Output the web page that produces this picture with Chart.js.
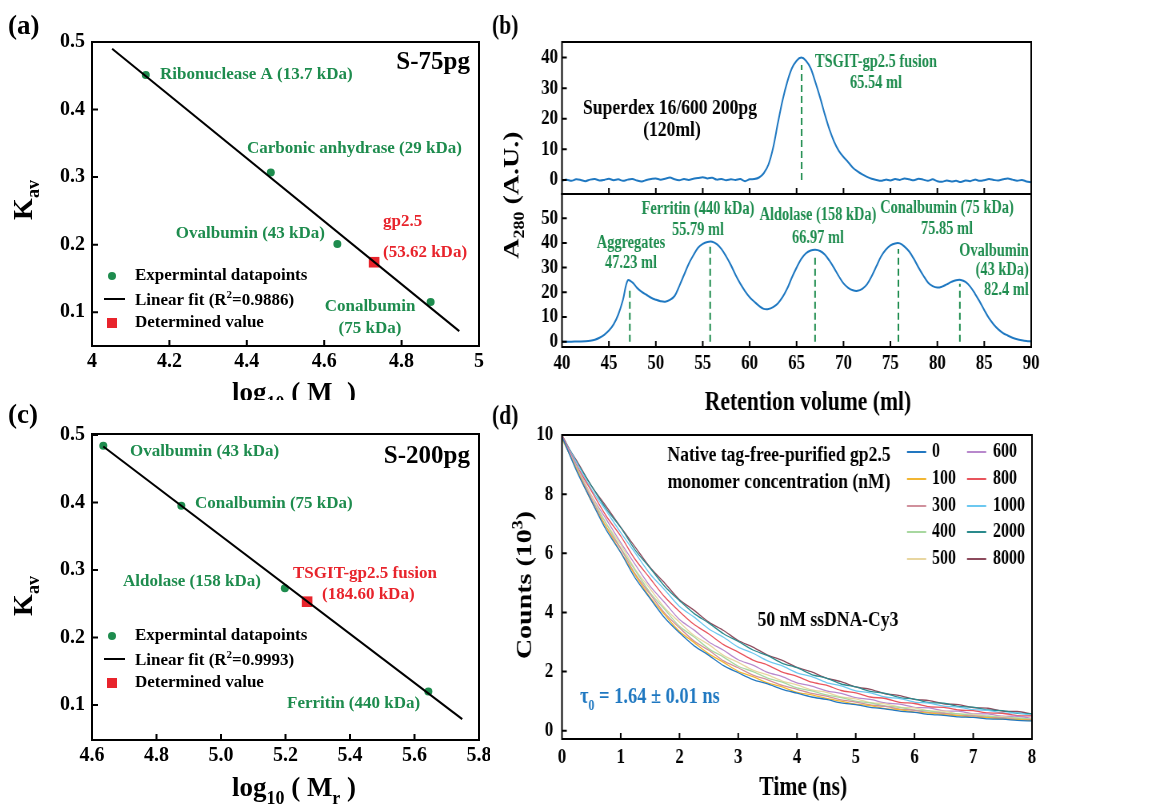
<!DOCTYPE html>
<html><head><meta charset="utf-8">
<script src="https://cdn.jsdelivr.net/npm/chart.js@4.4.1/dist/chart.umd.min.js"></script>
<style>
html,body{margin:0;padding:0;background:#fff;}
#wrap{position:relative;width:1165px;height:806px;overflow:hidden;background:#fff;}
.pn{position:absolute;}
.sq{transform:scaleX(0.8);transform-origin:0 0;}
</style></head><body>
<div id="wrap">
<div class="pn" style="left:0;top:0;width:490px;height:400px"><canvas id="ca"></canvas></div>
<div class="pn" style="left:0;top:400px;width:490px;height:406px"><canvas id="cc"></canvas></div>
<div class="pn sq" style="left:480px;top:0;width:856px;height:420px"><canvas id="cb1"></canvas></div>
<div class="pn sq" style="left:480px;top:0;width:856px;height:420px"><canvas id="cb2"></canvas></div>
<div class="pn sq" style="left:480px;top:400px;width:856px;height:406px"><canvas id="cd"></canvas></div>
</div>
<script>
// ---------- data: panel (a) S-75pg calibration ----------
const aStdNames = ['Ribonuclease A (13.7 kDa)', 'Carbonic anhydrase (29 kDa)', 'Ovalbumin (43 kDa)', 'Conalbumin (75 kDa)'];
const aStdLogM = [4.139, 4.462, 4.634, 4.875];
const aStdKav  = [0.451, 0.307, 0.201, 0.115];
const aFitLogM = [4.052, 4.949];
const aFitKav  = [0.490, 0.072];
const aDetLogM = [4.729];
const aDetKav  = [0.174];
const aXTicks = [4, 4.2, 4.4, 4.6, 4.8, 5];
const aXTickLabels = ['4', '4.2', '4.4', '4.6', '4.8', '5'];
const aYTicks = [0.1, 0.2, 0.3, 0.4, 0.5];
const aYTickLabels = ['0.1', '0.2', '0.3', '0.4', '0.5'];

// ---------- data: panel (c) S-200pg calibration ----------
const cStdNames = ['Ovalbumin (43 kDa)', 'Conalbumin (75 kDa)', 'Aldolase (158 kDa)', 'Ferritin (440 kDa)'];
const cStdLogM = [4.635, 4.877, 5.198, 5.643];
const cStdKav  = [0.484, 0.395, 0.273, 0.120];
const cFitLogM = [4.635, 5.748];
const cFitKav  = [0.483, 0.079];
const cDetLogM = [5.267];
const cDetKav  = [0.253];
const cXTicks = [4.6, 4.8, 5.0, 5.2, 5.4, 5.6, 5.8];
const cXTickLabels = ['4.6', '4.8', '5.0', '5.2', '5.4', '5.6', '5.8'];
const cYTicks = [0.1, 0.2, 0.3, 0.4, 0.5];
const cYTickLabels = ['0.1', '0.2', '0.3', '0.4', '0.5'];

// ---------- data: panel (b) chromatograms ----------
const bVolume = [
 40.0,40.5,41.0,41.5,42.0,42.5,43.0,43.5,44.0,44.5,
 45.0,45.5,46.0,46.5,47.0,47.5,48.0,48.5,49.0,49.5,
 50.0,50.5,51.0,51.5,52.0,52.5,53.0,53.5,54.0,54.5,
 55.0,55.5,56.0,56.5,57.0,57.5,58.0,58.5,59.0,59.5,
 60.0,60.5,61.0,61.5,62.0,62.5,63.0,63.5,64.0,64.5,
 65.0,65.5,66.0,66.5,67.0,67.5,68.0,68.5,69.0,69.5,
 70.0,70.5,71.0,71.5,72.0,72.5,73.0,73.5,74.0,74.5,
 75.0,75.5,76.0,76.5,77.0,77.5,78.0,78.5,79.0,79.5,
 80.0,80.5,81.0,81.5,82.0,82.5,83.0,83.5,84.0,84.5,
 85.0,85.5,86.0,86.5,87.0,87.5,88.0,88.5,89.0,89.5,
 90.0];
const bSampleA280 = [
 -0.2,0.1,-0.3,0.2,0.0,-0.4,0.1,0.3,-0.2,0.0,
 0.4,-0.1,0.2,-0.3,0.1,0.3,-0.2,-0.5,0.0,0.3,
 0.5,0.1,0.4,0.8,0.2,-0.1,0.3,0.0,0.4,0.6,
 0.9,0.5,0.7,0.1,0.3,-0.1,0.2,0.0,0.3,-0.4,
 0.2,0.3,0.8,2.2,5.0,10.5,18.5,26.0,32.0,36.5,
 39.0,40.0,39.0,36.5,32.0,27.0,21.5,16.5,12.5,9.5,
 7.5,5.8,4.0,2.8,1.8,1.0,0.4,0.0,-0.3,0.1,
 -0.2,0.3,0.0,0.5,0.2,-0.1,0.4,0.1,-0.3,0.2,
 -0.4,-0.6,-0.2,-0.5,-0.3,-0.7,-0.2,-0.4,0.1,-0.3,
 -0.1,0.3,0.0,-0.2,0.2,0.5,0.1,-0.3,0.0,-0.5,
 -0.8];
const bStandardsA280 = [
 0.0,0.0,0.0,0.05,0.1,0.2,0.4,0.8,1.6,2.8,
 4.5,7.0,11.0,17.0,24.8,24.0,21.8,20.2,19.0,17.8,
 17.0,16.4,16.2,16.9,18.5,22.5,27.0,31.5,35.0,38.0,
 39.6,40.4,40.5,39.5,37.5,34.5,31.0,27.0,23.5,20.5,
 18.0,16.2,14.5,13.3,13.2,14.0,15.5,18.0,21.5,26.0,
 30.0,33.5,35.8,36.9,37.2,36.7,35.3,32.8,29.8,26.5,
 23.6,21.8,20.8,20.6,21.4,23.2,26.5,30.5,34.5,37.2,
 39.0,39.8,39.8,38.5,36.5,33.5,30.0,26.8,24.0,22.5,
 21.9,22.3,23.2,24.2,24.9,25.0,24.2,22.3,19.5,16.3,
 12.8,9.5,7.0,5.0,3.5,2.5,1.6,1.0,0.6,0.3,
 0.1];
const bSamplePeakVol = [65.54];
const bSamplePeakTop = [37.6];
const bStdPeakVol = [47.23, 55.79, 66.97, 75.85, 82.4];
const bStdPeakTop = [21.5, 39.0, 35.0, 37.5, 23.5];
const bXTicks = [40, 45, 50, 55, 60, 65, 70, 75, 80, 85, 90];
const bTopYTicks = [0, 10, 20, 30, 40];
const bBotYTicks = [0, 10, 20, 30, 40, 50];

// ---------- data: panel (d) fluorescence decays ----------
const dTime = [0,0.25,0.5,0.75,1,1.25,1.5,1.75,2,2.25,2.5,2.75,3,3.25,3.5,3.75,4,4.25,4.5,4.75,5,5.25,5.5,5.75,6,6.25,6.5,6.75,7,7.25,7.5,7.75,8];
const dConc = ['0', '100', '300', '400', '500', '600', '800', '1000', '2000', '8000'];
const dC0    = [9.95,8.78,7.77,6.80,6.02,5.15,4.47,3.81,3.31,2.87,2.55,2.20,1.96,1.73,1.58,1.40,1.27,1.14,1.06,0.94,0.88,0.79,0.74,0.66,0.62,0.55,0.52,0.47,0.45,0.40,0.39,0.35,0.33];
const dC100  = [9.90,8.83,7.76,6.89,6.04,5.25,4.51,3.92,3.36,2.98,2.60,2.31,2.01,1.83,1.62,1.48,1.30,1.21,1.09,1.00,0.90,0.85,0.75,0.71,0.63,0.60,0.54,0.51,0.46,0.44,0.39,0.38,0.34];
const dC300  = [9.92,8.85,7.85,6.91,6.15,5.29,4.62,3.97,3.48,3.03,2.72,2.36,2.13,1.88,1.72,1.53,1.40,1.26,1.17,1.04,0.97,0.87,0.82,0.73,0.69,0.61,0.59,0.52,0.50,0.45,0.43,0.38,0.37];
const dC400  = [9.85,8.88,7.86,7.01,6.18,5.41,4.67,4.10,3.53,3.17,2.77,2.49,2.18,2.00,1.78,1.64,1.45,1.35,1.21,1.12,1.00,0.94,0.84,0.79,0.70,0.67,0.60,0.57,0.51,0.49,0.44,0.43,0.38];
const dC500  = [9.90,8.90,7.94,7.03,6.29,5.45,4.80,4.15,3.67,3.22,2.91,2.55,2.31,2.05,1.89,1.68,1.55,1.38,1.30,1.14,1.08,0.95,0.91,0.80,0.77,0.67,0.66,0.57,0.56,0.49,0.48,0.42,0.41];
const dC600  = [9.95,8.95,7.96,7.16,6.36,5.61,4.89,4.33,3.76,3.40,3.00,2.72,2.40,2.22,1.97,1.83,1.62,1.51,1.35,1.26,1.12,1.06,0.94,0.90,0.79,0.77,0.67,0.66,0.57,0.57,0.49,0.49,0.42];
const dC800  = [10.0,8.97,8.11,7.27,6.58,5.78,5.15,4.52,4.03,3.59,3.27,2.91,2.66,2.39,2.22,1.98,1.84,1.64,1.54,1.36,1.28,1.14,1.09,0.96,0.92,0.81,0.79,0.70,0.68,0.60,0.59,0.51,0.50];
const dC1000 = [9.95,9.07,8.17,7.44,6.70,6.00,5.30,4.76,4.20,3.84,3.44,3.16,2.83,2.62,2.36,2.19,1.96,1.83,1.63,1.52,1.35,1.28,1.14,1.09,0.97,0.93,0.83,0.80,0.71,0.69,0.60,0.60,0.51];
const dC2000 = [10.0,9.08,8.29,7.51,6.87,6.10,5.50,4.88,4.40,3.96,3.64,3.28,3.02,2.73,2.54,2.28,2.13,1.90,1.78,1.58,1.48,1.33,1.26,1.12,1.07,0.95,0.93,0.82,0.80,0.70,0.68,0.59,0.58];
const dC8000 = [9.90,9.13,8.28,7.59,6.88,6.20,5.52,4.99,4.43,4.07,3.67,3.39,3.05,2.83,2.56,2.38,2.14,1.99,1.78,1.66,1.48,1.40,1.25,1.19,1.06,1.02,0.91,0.88,0.78,0.76,0.66,0.65,0.56];
const dXTicks = [0, 1, 2, 3, 4, 5, 6, 7, 8];
const dYTicks = [0, 2, 4, 6, 8, 10];

// ---------- styling ----------
const FF = '"Liberation Serif", "Times New Roman", serif';
const GREEN = '#1e8c4e';
const RED = '#e8242c';
const BLUE = '#1f78c1';
const dColors = ['#2277c0', '#f2b632', '#d0909c', '#a8d8a0', '#e8d6a0', '#b888cc', '#e8545c', '#6cc8f0', '#2a8a8c', '#8c4a5c'];
const dSeries = [dC0, dC100, dC300, dC400, dC500, dC600, dC800, dC1000, dC2000, dC8000];

Chart.defaults.font.family = FF;
Chart.defaults.font.weight = 'bold';
Chart.defaults.color = '#000';

const pts = (xs, ys) => xs.map((x, i) => ({x: x, y: ys[i]}));

function txt(ctx, s, x, y, o) {
  o = o || {};
  ctx.save();
  ctx.font = 'bold ' + (o.size || 17) + 'px ' + FF;
  ctx.fillStyle = o.color || '#000';
  ctx.textAlign = o.align || 'left';
  ctx.textBaseline = o.base || 'middle';
  ctx.translate(x, y);
  if (o.rot) ctx.rotate(o.rot);
  ctx.fillText(s, 0, 0);
  ctx.restore();
}
// parts: [text, size, dy]; y is alphabetic baseline
function rich(ctx, parts, x, y, o) {
  o = o || {};
  ctx.save();
  ctx.translate(x, y);
  if (o.rot) ctx.rotate(o.rot);
  const ws = parts.map(p => { ctx.font = 'bold ' + p[1] + 'px ' + FF; return ctx.measureText(p[0]).width; });
  const w = ws.reduce((a, b) => a + b, 0);
  let cx = o.align === 'left' ? 0 : (o.align === 'right' ? -w : -w / 2);
  ctx.fillStyle = o.color || '#000';
  ctx.textAlign = 'left';
  ctx.textBaseline = 'alphabetic';
  parts.forEach((p, i) => { ctx.font = 'bold ' + p[1] + 'px ' + FF; ctx.fillText(p[0], cx, p[2] || 0); cx += ws[i]; });
  ctx.restore();
}

function framePlugin(o) {
  return { id: 'frame', afterDatasetsDraw(chart) {
    const ctx = chart.ctx, ca = chart.chartArea, sx = chart.scales.x, sy = chart.scales.y;
    ctx.save();
    ctx.strokeStyle = '#000';
    ctx.lineWidth = o.lw || 2;
    ctx.strokeRect(ca.left, ca.top, ca.right - ca.left, ca.bottom - ca.top);
    ctx.lineWidth = o.tw || 2;
    const L = o.len || 6;
    ctx.beginPath();
    sx.ticks.forEach(t => { const p = sx.getPixelForValue(t.value); if (p > ca.left + 1 && p < ca.right - 1) { ctx.moveTo(p, ca.bottom); ctx.lineTo(p, ca.bottom - L); } });
    sy.ticks.forEach(t => { const p = sy.getPixelForValue(t.value); if (p > ca.top + 1 && p < ca.bottom - 1) { ctx.moveTo(ca.left, p); ctx.lineTo(ca.left + (o.lenY || L), p); } });
    ctx.stroke();
    ctx.restore();
  }};
}
function overlay(fn) { return { id: 'overlay', afterDraw(chart) { fn(chart.ctx, chart); } }; }

function axis(a, dir) {
  return {
    type: 'linear', min: a.min, max: a.max,
    grid: { display: false, drawTicks: false }, border: { display: false },
    ticks: { display: a.show !== false, autoSkip: false, maxRotation: 0, padding: a.pad,
             color: '#000', font: { family: FF, size: a.font, weight: 'bold' },
             callback: (v, i) => a.labels ? a.labels[i] : String(v) },
    afterBuildTicks: s => { s.ticks = a.ticks.map(v => ({ value: v })); },
    afterFit: s => {
      if (dir === 'x') s.height = a.px; else s.width = a.px;
      s.paddingLeft = 0; s.paddingRight = 0; s.paddingTop = 0; s.paddingBottom = 0;
    }
  };
}
function mk(id, datasets, cfg) {
  return new Chart(document.getElementById(id), {
    type: 'scatter',
    data: { datasets: datasets },
    options: {
      responsive: true, maintainAspectRatio: false, animation: false, events: [],
      layout: { padding: cfg.pad },
      plugins: { legend: { display: false }, tooltip: { enabled: false } },
      scales: { x: axis(cfg.x, 'x'), y: axis(cfg.y, 'y') }
    },
    plugins: [framePlugin(cfg.frame || {}), overlay(cfg.draw)]
  });
}

function calibLegend(ctx, y0, r2) {
  ctx.save();
  ctx.fillStyle = GREEN; ctx.beginPath(); ctx.arc(112, y0, 4, 0, 2 * Math.PI); ctx.fill();
  ctx.strokeStyle = '#000'; ctx.lineWidth = 2; ctx.beginPath(); ctx.moveTo(104, y0 + 23); ctx.lineTo(125, y0 + 23); ctx.stroke();
  ctx.fillStyle = RED; ctx.fillRect(107, y0 + 42, 10, 10);
  ctx.restore();
  txt(ctx, 'Expermintal datapoints', 135, y0, { size: 17 });
  rich(ctx, [['Linear fit (R', 17], ['2', 11, -7], ['=' + r2 + ')', 17]], 135, y0 + 29, { align: 'left' });
  txt(ctx, 'Determined value', 135, y0 + 47, { size: 17 });
}

// ---------- panel (a) ----------
mk('ca', [
  { data: pts(aFitLogM, aFitKav), showLine: true, borderColor: '#000', borderWidth: 2, pointRadius: 0 },
  { data: pts(aStdLogM, aStdKav), pointRadius: 4, pointBackgroundColor: GREEN, pointBorderWidth: 0 },
  { data: pts(aDetLogM, aDetKav), pointStyle: 'rect', pointRadius: 7.5, pointBackgroundColor: RED, pointBorderWidth: 0 }
], {
  pad: { left: 0, right: 11, top: 42, bottom: 0 },
  x: { min: 4, max: 5, ticks: aXTicks, labels: aXTickLabels, font: 20, pad: 4, px: 54 },
  y: { min: 0.05, max: 0.5, ticks: aYTicks, labels: aYTickLabels, font: 20, pad: 7, px: 92 },
  draw: (ctx) => {
    txt(ctx, '(a)', 8, 27, { size: 27 });
    rich(ctx, [['K', 28], ['av', 18, 7]], 32, 200, { rot: -Math.PI / 2 });
    rich(ctx, [['log', 27], ['10', 18, 8], [' ( M', 27], ['r', 18, 8], [' )', 27]], 294, 401);
    txt(ctx, 'S-75pg', 470, 63, { size: 25, align: 'right' });
    txt(ctx, aStdNames[0], 160, 75, { color: GREEN });
    txt(ctx, aStdNames[1], 247, 149, { color: GREEN });
    txt(ctx, aStdNames[2], 325, 234, { color: GREEN, align: 'right' });
    txt(ctx, 'Conalbumin', 370, 307, { color: GREEN, align: 'center' });
    txt(ctx, '(75 kDa)', 370, 329, { color: GREEN, align: 'center' });
    txt(ctx, 'gp2.5', 383, 222, { color: RED });
    txt(ctx, '(53.62 kDa)', 383, 253, { color: RED });
    calibLegend(ctx, 276, '0.9886');
  }
});

// ---------- panel (c) ----------
mk('cc', [
  { data: pts(cFitLogM, cFitKav), showLine: true, borderColor: '#000', borderWidth: 2, pointRadius: 0 },
  { data: pts(cStdLogM, cStdKav), pointRadius: 4, pointBackgroundColor: GREEN, pointBorderWidth: 0 },
  { data: pts(cDetLogM, cDetKav), pointStyle: 'rect', pointRadius: 7.5, pointBackgroundColor: RED, pointBorderWidth: 0 }
], {
  pad: { left: 0, right: 11, top: 34, bottom: 0 },
  x: { min: 4.6, max: 5.8, ticks: cXTicks, labels: cXTickLabels, font: 20, pad: 4, px: 66 },
  y: { min: 0.048, max: 0.5015, ticks: cYTicks, labels: cYTickLabels, font: 20, pad: 7, px: 92 },
  draw: (ctx) => {
    txt(ctx, '(c)', 8, 16, { size: 27 });
    rich(ctx, [['K', 28], ['av', 18, 7]], 32, 196, { rot: -Math.PI / 2 });
    rich(ctx, [['log', 27], ['10', 18, 8], [' ( M', 27], ['r', 18, 8], [' )', 27]], 294, 396);
    txt(ctx, 'S-200pg', 470, 57, { size: 25, align: 'right' });
    txt(ctx, cStdNames[0], 130, 52, { color: GREEN });
    txt(ctx, cStdNames[1], 195, 104, { color: GREEN });
    txt(ctx, cStdNames[2], 123, 182, { color: GREEN });
    txt(ctx, cStdNames[3], 287, 304, { color: GREEN });
    txt(ctx, 'TSGIT-gp2.5 fusion', 293, 174, { color: RED });
    txt(ctx, '(184.60 kDa)', 322, 195, { color: RED });
    calibLegend(ctx, 236, '0.9993');
  }
});

// ---------- panel (b) top ----------
const dash = (xs, tops) => xs.map((x, i) => ({ data: [{ x: x, y: 0 }, { x: x, y: tops[i] }], showLine: true, borderColor: GREEN, borderWidth: 2, borderDash: [7, 4], pointRadius: 0 }));
mk('cb1', [
  { data: pts(bVolume, bSampleA280), showLine: true, borderColor: BLUE, borderWidth: 2, pointRadius: 0, tension: 0.3 },
  ...dash(bSamplePeakVol, bSamplePeakTop)
], {
  pad: { left: 0, right: 167, top: 42, bottom: 0 },
  x: { min: 40, max: 90, ticks: bXTicks, font: 21, pad: 4, px: 226, show: false },
  y: { min: -4.6, max: 45.1, ticks: bTopYTicks, font: 21, pad: 5, px: 102.5 },
  draw: (ctx) => {
    txt(ctx, '(b)', 15, 27, { size: 27 });
    rich(ctx, [['A', 28], ['280', 18, 7], [' (A.U.)', 28]], 47.5, 195, { rot: -Math.PI / 2 });
    txt(ctx, 'Superdex 16/600 200pg', 237.5, 108, { size: 22, align: 'center' });
    txt(ctx, '(120ml)', 240, 130, { size: 22, align: 'center' });
    txt(ctx, 'TSGIT-gp2.5 fusion', 495, 62, { size: 18, color: GREEN, align: 'center' });
    txt(ctx, '65.54 ml', 495, 83, { size: 18, color: GREEN, align: 'center' });
  }
});

// ---------- panel (b) bottom ----------
mk('cb2', [
  { data: pts(bVolume, bStandardsA280), showLine: true, borderColor: BLUE, borderWidth: 2, pointRadius: 0, tension: 0.35 },
  ...dash(bStdPeakVol, bStdPeakTop)
], {
  pad: { left: 0, right: 167, top: 194, bottom: 0 },
  x: { min: 40, max: 90, ticks: bXTicks, font: 21, pad: 4, px: 73 },
  y: { min: -2.15, max: 59.8, ticks: bBotYTicks, font: 21, pad: 5, px: 102.5 },
  draw: (ctx) => {
    const o = { size: 18, color: GREEN, align: 'center' };
    txt(ctx, 'Aggregates', 188.75, 243, o);
    txt(ctx, '47.23 ml', 188.75, 263, o);
    txt(ctx, 'Ferritin (440 kDa)', 272.5, 209, o);
    txt(ctx, '55.79 ml', 272.5, 230, o);
    txt(ctx, 'Aldolase (158 kDa)', 422.5, 215, o);
    txt(ctx, '66.97 ml', 422.5, 238, o);
    txt(ctx, 'Conalbumin (75 kDa)', 583.75, 208, o);
    txt(ctx, '75.85 ml', 583.75, 229, o);
    const r = { size: 18, color: GREEN, align: 'right' };
    txt(ctx, 'Ovalbumin', 686, 251, r);
    txt(ctx, '(43 kDa)', 686, 270, r);
    txt(ctx, '82.4 ml', 686, 290, r);
    rich(ctx, [['Retention volume (ml)', 27]], 410, 410);
  }
});

// ---------- panel (d) ----------
mk('cd', dSeries.map((s, i) => ({ data: pts(dTime, s), showLine: true, borderColor: dColors[i], borderWidth: 1.3, pointRadius: 0, tension: 0.3 })), {
  pad: { left: 0, right: 166, top: 35, bottom: 0 },
  x: { min: 0, max: 8, ticks: dXTicks, font: 21, pad: 6, px: 67 },
  y: { min: -0.28, max: 10, ticks: dYTicks, font: 21, pad: 11, px: 102.5 },
  draw: (ctx) => {
    txt(ctx, '(d)', 15, 17, { size: 27 });
    rich(ctx, [['Counts (10', 28], ['3', 18, -11], [')', 28]], 63.75, 185, { rot: -Math.PI / 2 });
    rich(ctx, [['Time (ns)', 27]], 404, 395);
    txt(ctx, 'Native tag-free-purified gp2.5', 373.75, 55, { size: 22, align: 'center' });
    txt(ctx, 'monomer concentration (nM)', 373.75, 82, { size: 22, align: 'center' });
    const rows = [52, 79, 106, 132, 159];
    dConc.forEach((c, i) => {
      const col = i < 5 ? 0 : 1, row = i % 5;
      const lx = col ? 608.75 : 533.75, tx = col ? 641.25 : 565;
      ctx.save(); ctx.strokeStyle = dColors[i]; ctx.lineWidth = 2;
      ctx.beginPath(); ctx.moveTo(lx, rows[row]); ctx.lineTo(lx + 24, rows[row]); ctx.stroke(); ctx.restore();
      txt(ctx, c, tx, rows[row], { size: 20 });
    });
    txt(ctx, '50 nM ssDNA-Cy3', 435, 220, { size: 22, align: 'center' });
    rich(ctx, [['\u03c4', 23], ['0', 15, 7], [' = 1.64 \u00b1 0.01 ns', 23]], 125, 303, { align: 'left', color: BLUE });
  }
});
</script>
</body></html>
